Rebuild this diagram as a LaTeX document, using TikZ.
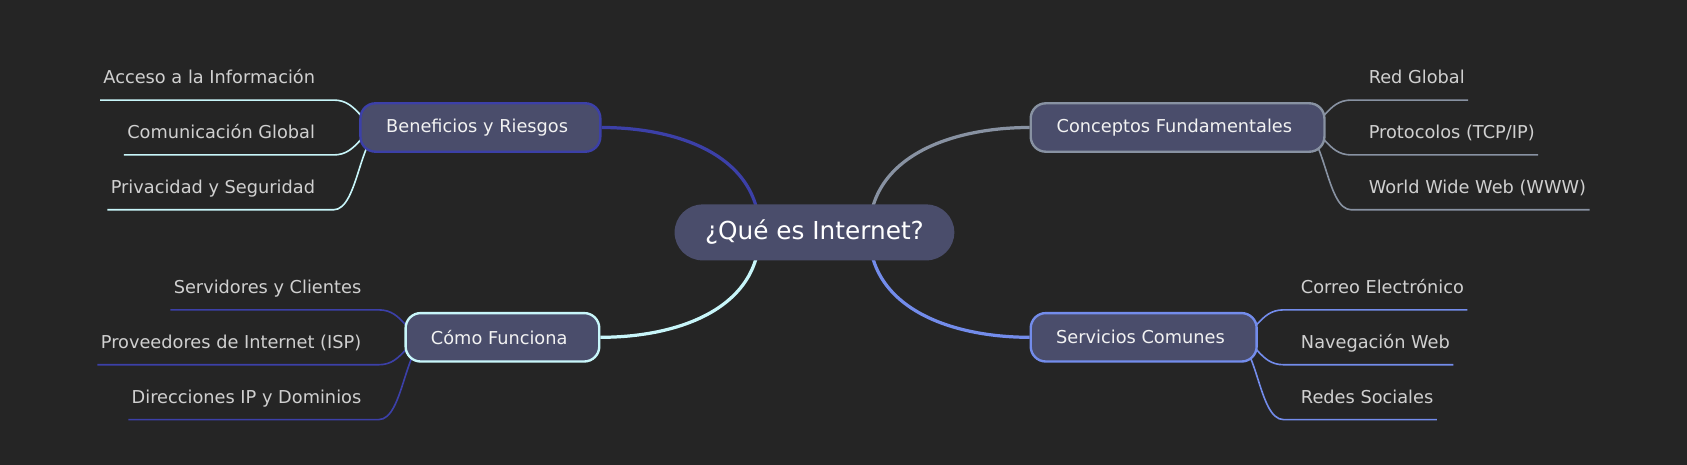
\documentclass[tikz,border=0pt]{standalone}
\usepackage{fontspec}
\setmainfont{DejaVu Sans}
\usetikzlibrary{calc}
\definecolor{bgc}{RGB}{37,37,37}
\definecolor{boxfill}{RGB}{74,77,107}
\definecolor{indigo}{RGB}{60,64,168}
\definecolor{slate}{RGB}{136,146,162}
\definecolor{aqua}{RGB}{200,246,250}
\definecolor{cornf}{RGB}{115,140,235}
\definecolor{leaftxt}{RGB}{208,208,208}
\definecolor{nodetxt}{RGB}{242,242,242}
\pgfdeclarelayer{back}
\pgfdeclarelayer{lines}
\pgfsetlayers{back,lines,main}
\begin{document}
\begin{tikzpicture}[x=1pt,y=-1pt,
  rootbox/.style={fill=boxfill, rounded corners=26pt, minimum width=260pt, minimum height=52pt, inner sep=0pt, text=white, font=\fontsize{23}{27}\selectfont},
  catbox/.style={draw=#1, line width=2.2pt, fill=boxfill, rounded corners=14pt, minimum height=45pt, inner sep=0pt, text=nodetxt, font=\fontsize{16.5}{20}\selectfont},
  mainlink/.style={draw=#1, line width=3pt},
  leaflink/.style={draw=#1, line width=1.5pt},
  leafL/.style={anchor=base east, inner xsep=3pt, inner ysep=0pt, text=leaftxt, font=\fontsize{16.5}{20}\selectfont},
  leafR/.style={anchor=base west, inner xsep=3pt, inner ysep=0pt, text=leaftxt, font=\fontsize{16.5}{20}\selectfont}]
\useasboundingbox (0,0) rectangle (1568,432);
\begin{pgfonlayer}{back}
  \fill[bgc] (0,0) rectangle (1568,432);
\end{pgfonlayer}

% root and categories
\node[rootbox] (root) at (757,216) {¿Qué es Internet?};
\node[catbox=indigo, minimum width=223pt] (ben) at (446.5,118.5) {Beneficios y Riesgos\hspace*{6pt}};
\node[catbox=slate, minimum width=273pt] (con) at (1094.5,118.5) {Conceptos Fundamentales\hspace*{6pt}};
\node[catbox=aqua, minimum width=180pt] (como) at (467,313.5) {Cómo Funciona\hspace*{6pt}};
\node[catbox=cornf, minimum width=210pt] (serv) at (1063,313.5) {Servicios Comunes\hspace*{6pt}};

% leaves
\node[leafL] (t11) at (296,78) {Acceso a la Información};
\node[leafL] (t12) at (296,129) {Comunicación Global};
\node[leafL] (t13) at (296,180) {Privacidad y Seguridad};
\node[leafR] (t21) at (1269,78) {Red Global};
\node[leafR] (t22) at (1269,129) {Protocolos (TCP/IP)};
\node[leafR] (t23) at (1269,180) {World Wide Web (WWW)};
\node[leafL] (t31) at (339,273) {Servidores y Clientes};
\node[leafL] (t32) at (339,324) {Proveedores de Internet (ISP)};
\node[leafL] (t33) at (339,375) {Direcciones IP y Dominios};
\node[leafR] (t41) at (1206,273) {Correo Electrónico};
\node[leafR] (t42) at (1206,324) {Navegación Web};
\node[leafR] (t43) at (1206,375) {Redes Sociales};

\coordinate (u11) at (310,93);
\coordinate (u12) at (310,144);
\coordinate (u13) at (310,195);
\coordinate (u21) at (1256,93);
\coordinate (u22) at (1256,144);
\coordinate (u23) at (1256,195);
\coordinate (u31) at (352,288);
\coordinate (u32) at (352,339);
\coordinate (u33) at (352,390);
\coordinate (u41) at (1193,288);
\coordinate (u42) at (1193,339);
\coordinate (u43) at (1193,390);

\begin{pgfonlayer}{lines}
  % main links
  \draw[mainlink=indigo] (ben.east) .. controls +(72,0) and +(0,-71) .. ($(root.center)+(-51,0)$);
  \draw[mainlink=slate] (con.west) .. controls +(-72,0) and +(0,-71) .. ($(root.center)+(51,0)$);
  \draw[mainlink=aqua] (como.east) .. controls +(72,0) and +(0,71) .. ($(root.center)+(-51,0)$);
  \draw[mainlink=cornf] (serv.west) .. controls +(-72,0) and +(0,71) .. ($(root.center)+(51,0)$);
  % leaf links
  \foreach \k in {11,12,13}{
    \draw[leaflink=aqua] ($(ben.west)+(25,0)$) .. controls (ben.west) and (ben.west |- u\k) .. (u\k) -- (t\k.west |- u\k);
  }
  \foreach \k in {21,22,23}{
    \draw[leaflink=slate] ($(con.east)+(-25,0)$) .. controls (con.east) and (con.east |- u\k) .. (u\k) -- (t\k.east |- u\k);
  }
  \foreach \k in {31,32,33}{
    \draw[leaflink=indigo] ($(como.west)+(25,0)$) .. controls (como.west) and (como.west |- u\k) .. (u\k) -- (t\k.west |- u\k);
  }
  \foreach \k in {41,42,43}{
    \draw[leaflink=cornf] ($(serv.east)+(-25,0)$) .. controls (serv.east) and (serv.east |- u\k) .. (u\k) -- (t\k.east |- u\k);
  }
\end{pgfonlayer}
\end{tikzpicture}
\end{document}
